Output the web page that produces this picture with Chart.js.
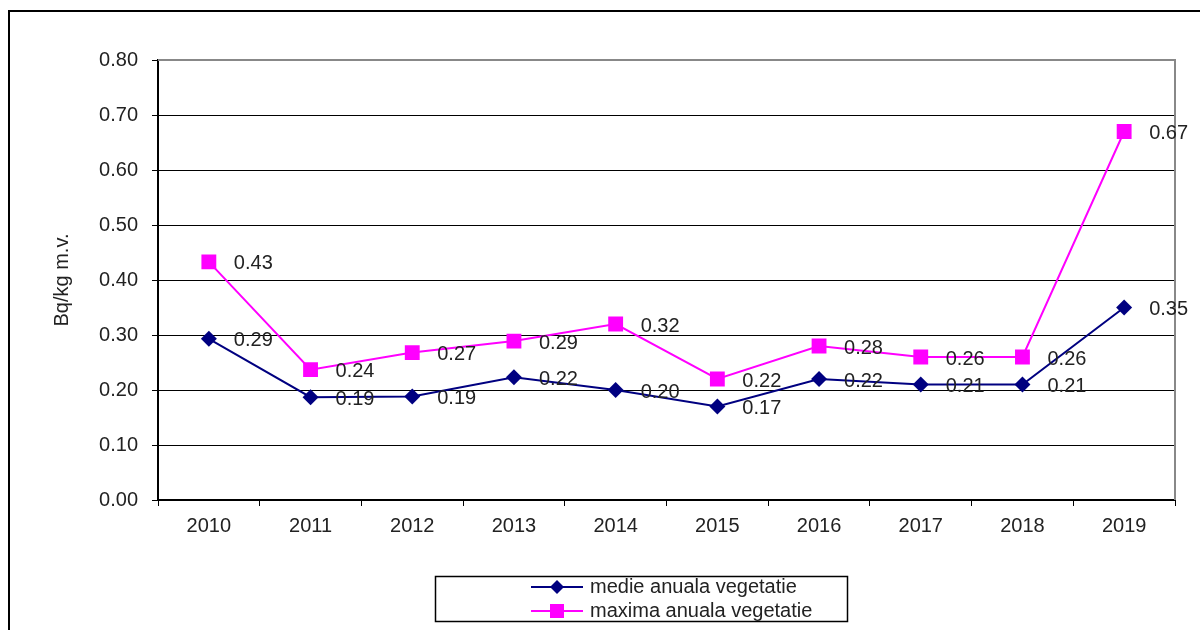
<!DOCTYPE html>
<html>
<head>
<meta charset="utf-8">
<script src="https://cdn.jsdelivr.net/npm/chart.js@4.4.0/dist/chart.umd.min.js"></script>
<style>
    html, body { margin: 0; padding: 0; background: #fff; overflow: hidden; }
    #frame { position: absolute; left: 8px; top: 10px; width: 1300px; height: 700px; border: 2px solid #000; box-sizing: border-box; }
    #wrap { position: absolute; left: 0; top: 0; width: 1200px; height: 630px; }
</style>
</head>
<body>
<div id="frame"></div>
<div id="wrap"><canvas id="chart" width="1200" height="630"></canvas></div>
<script>
// Chart data
const years = ['2010', '2011', '2012', '2013', '2014', '2015', '2016', '2017', '2018', '2019'];
const medieValues = [0.293, 0.187, 0.188, 0.223, 0.200, 0.170, 0.220, 0.210, 0.210, 0.350];
const maximaValues = [0.433, 0.237, 0.268, 0.289, 0.320, 0.220, 0.280, 0.260, 0.260, 0.670];
const seriesNames = ['medie anuala vegetatie', 'maxima anuala vegetatie'];

const FONT = 'Arial, "Liberation Sans", sans-serif';
const TEXT = '#222';

// Value labels next to each point
const valueLabels = {
    id: 'valueLabels',
    afterDatasetsDraw(chart) {
        const ctx = chart.ctx;
        ctx.save();
        ctx.font = '20px ' + FONT;
        ctx.fillStyle = TEXT;
        ctx.textAlign = 'left';
        ctx.textBaseline = 'middle';
        chart.data.datasets.forEach(function(ds, i) {
            chart.getDatasetMeta(i).data.forEach(function(pt, j) {
                ctx.fillText(ds.data[j].toFixed(2), pt.x + 25, pt.y + 2);
            });
        });
        ctx.restore();
    }
};

// Grey border on top and right of the plot area
const plotBorder = {
    id: 'plotBorder',
    beforeDatasetsDraw(chart) {
        const a = chart.chartArea;
        const ctx = chart.ctx;
        ctx.save();
        ctx.strokeStyle = '#888';
        ctx.lineWidth = 2;
        ctx.beginPath();
        ctx.moveTo(a.left, a.top);
        ctx.lineTo(a.right, a.top);
        ctx.lineTo(a.right, a.bottom);
        ctx.stroke();
        ctx.restore();
    }
};

// Boxed legend with line + marker samples
const boxLegend = {
    id: 'boxLegend',
    afterDraw(chart) {
        const ctx = chart.ctx;
        ctx.save();
        ctx.strokeStyle = '#000';
        ctx.lineWidth = 1.5;
        ctx.strokeRect(435.5, 576.5, 412, 45);
        const rows = [587, 611];
        chart.data.datasets.forEach(function(ds, i) {
            const y = rows[i];
            ctx.strokeStyle = ds.borderColor;
            ctx.lineWidth = 2;
            ctx.beginPath();
            ctx.moveTo(531, y);
            ctx.lineTo(583, y);
            ctx.stroke();
            ctx.fillStyle = ds.borderColor;
            ctx.beginPath();
            if (ds.pointStyle === 'rectRot') {
                ctx.moveTo(557, y - 7);
                ctx.lineTo(564, y);
                ctx.lineTo(557, y + 7);
                ctx.lineTo(550, y);
                ctx.closePath();
            } else {
                ctx.rect(550, y - 7, 14, 14);
            }
            ctx.fill();
            ctx.fillStyle = TEXT;
            ctx.font = '20px ' + FONT;
            ctx.textAlign = 'left';
            ctx.textBaseline = 'middle';
            ctx.fillText(ds.label, 590, y);
        });
        ctx.restore();
    }
};

new Chart(document.getElementById('chart').getContext('2d'), {
    type: 'line',
    data: {
        labels: years,
        datasets: [{
            label: seriesNames[0],
            data: medieValues,
            borderColor: '#000080',
            backgroundColor: '#000080',
            borderWidth: 2,
            pointStyle: 'rectRot',
            pointRadius: 8,
            pointBorderWidth: 0,
            tension: 0,
            fill: false
        }, {
            label: seriesNames[1],
            data: maximaValues,
            borderColor: '#ff00ff',
            backgroundColor: '#ff00ff',
            borderWidth: 2,
            pointStyle: 'rect',
            pointRadius: 10.5,
            pointBorderWidth: 0,
            tension: 0,
            fill: false
        }]
    },
    options: {
        responsive: false,
        animation: false,
        layout: { padding: { left: 40, right: 25, top: 60, bottom: 90 } },
        plugins: {
            legend: { display: false },
            tooltip: { enabled: false }
        },
        scales: {
            x: {
                offset: true,
                grid: { offset: true, drawOnChartArea: false, drawTicks: true, tickLength: 6, color: '#000' },
                border: { color: '#000', width: 2 },
                ticks: { color: TEXT, font: { family: FONT, size: 20 }, padding: 8, maxRotation: 0 },
                afterFit: function(scale) { scale.height = 40; }
            },
            y: {
                min: 0,
                max: 0.8,
                ticks: {
                    stepSize: 0.1,
                    color: TEXT,
                    font: { family: FONT, size: 20 },
                    padding: 14,
                    callback: function(v) { return v.toFixed(2); }
                },
                grid: {
                    color: function(c) { return c.tick && c.tick.value >= 0.8 ? '#888' : '#000'; },
                    tickColor: '#000',
                    tickLength: 6,
                    lineWidth: 1
                },
                border: { color: '#000', width: 2 },
                title: {
                    display: true,
                    text: 'Bq/kg m.v.',
                    color: TEXT,
                    font: { family: FONT, size: 20 },
                    padding: { top: 10, bottom: 0 }
                },
                afterFit: function(scale) { scale.width = 118; }
            }
        }
    },
    plugins: [plotBorder, valueLabels, boxLegend]
});
</script>
</body>
</html>
